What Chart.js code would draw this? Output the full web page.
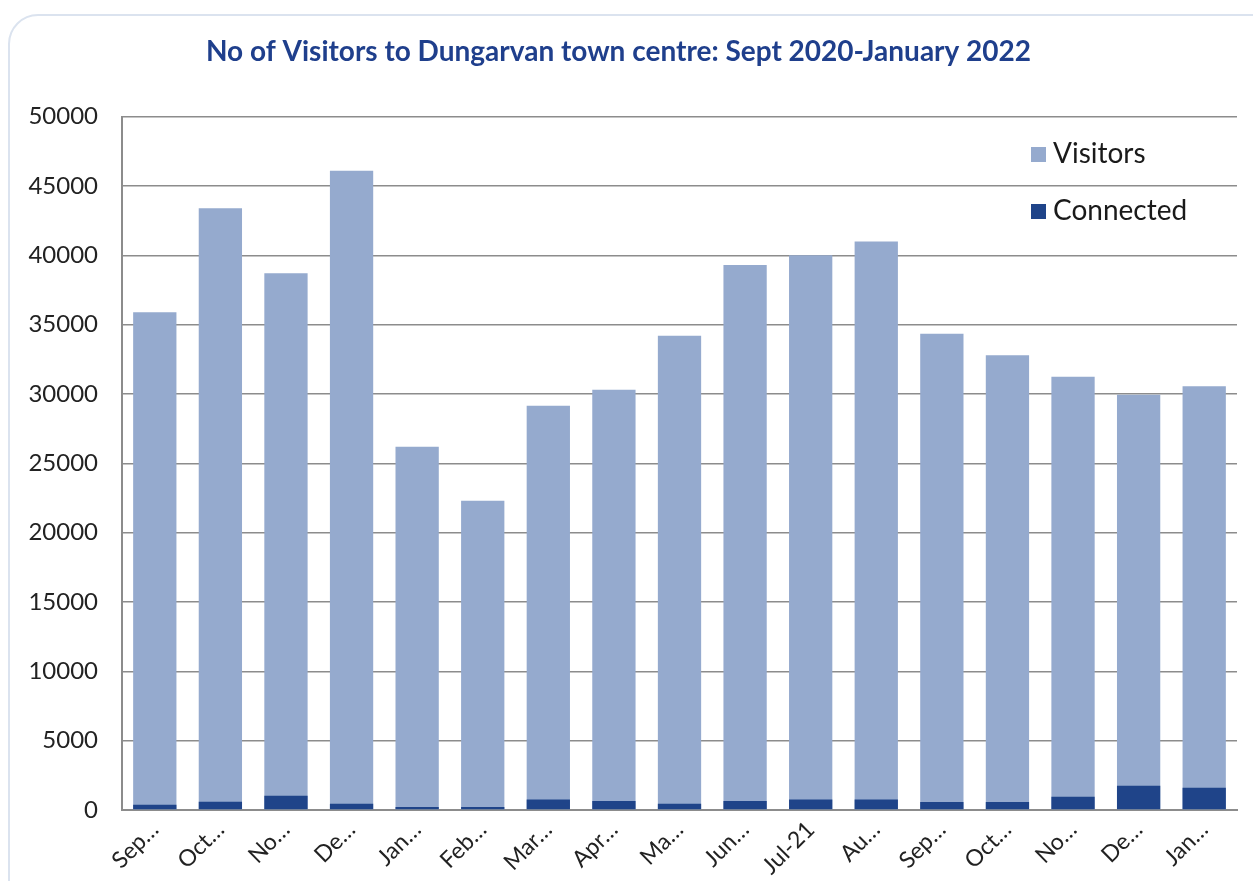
<!DOCTYPE html>
<html>
<head>
<meta charset="utf-8">
<script src="https://cdn.jsdelivr.net/npm/chart.js@4.4.1/dist/chart.umd.min.js"></script>
<style>
    html, body { margin: 0; padding: 0; background: #fff; overflow: hidden; }
    #frame {
        position: absolute; left: 8px; top: 14px; width: 1320px; height: 920px;
        border: 2px solid #dbe3ef; border-radius: 30px; box-sizing: border-box;
    }
    #wrap { position: absolute; left: 0; top: 0; width: 1253px; height: 881px; }
    #legend { position: absolute; left: 1031px; top: 135px; font-family: Lato, sans-serif; font-size: 28px; color: #1a1a1a; }
    #legend div { height: 57px; display: flex; align-items: flex-start; }
    #legend span.box { display: inline-block; width: 15px; height: 15px; margin: 12px 7px 0 0; }
</style>
</head>
<body>
<div id="frame"></div>
<div id="wrap"><canvas id="visitorsChart" width="1253" height="881"></canvas></div>
<div id="legend">
    <div><span class="box" style="background:#95aace"></span>Visitors</div>
    <div><span class="box" style="background:#1f4489"></span>Connected</div>
</div>
<script>
const months = ['Sep…', 'Oct…', 'No…', 'De…', 'Jan…', 'Feb…', 'Mar…', 'Apr…', 'Ma…',
    'Jun…', 'Jul-21', 'Au…', 'Sep…', 'Oct…', 'No…', 'De…', 'Jan…'];
const visitors = [35900, 43400, 38700, 46100, 26200, 22300, 29150, 30300, 34200,
    39300, 40000, 41000, 34350, 32800, 31250, 29950, 30550];
const connected = [380, 600, 1030, 450, 220, 220, 750, 650, 450,
    650, 750, 750, 580, 580, 960, 1750, 1610];
const yTicks = [0, 5000, 10000, 15000, 20000, 25000, 30000, 35000, 40000, 45000, 50000];

document.addEventListener('DOMContentLoaded', function () {
    const ctx = document.getElementById('visitorsChart').getContext('2d');
    new Chart(ctx, {
        type: 'bar',
        data: {
            labels: months,
            datasets: [{
                label: 'Visitors',
                data: visitors,
                backgroundColor: '#95aace',
                order: 2
            }, {
                label: 'Connected',
                data: connected,
                backgroundColor: '#1f4489',
                order: 1
            }]
        },
        options: {
            responsive: false,
            animation: false,
            maintainAspectRatio: false,
            layout: { padding: { left: 0, right: 16, top: 0, bottom: 0 } },
            datasets: { bar: { barPercentage: 0.66, categoryPercentage: 1 } },
            plugins: {
                legend: { display: false },
                tooltip: { enabled: false },
                title: {
                    display: true,
                    text: 'No of Visitors to Dungarvan town centre: Sept 2020-January 2022',
                    color: '#1f3f8c',
                    font: { family: 'Lato, sans-serif', size: 28, weight: 'bold' },
                    padding: { top: 35, bottom: 48 }
                }
            },
            scales: {
                x: {
                    stacked: true,
                    grid: { display: false, drawTicks: false },
                    border: { color: '#8c8c8c', width: 2 },
                    ticks: {
                        color: '#222',
                        font: { family: 'Lato, sans-serif', size: 23 },
                        maxRotation: 45, minRotation: 45, padding: 6, autoSkip: false
                    },
                    afterFit: function (scale) { scale.height = 71; }
                },
                y: {
                    stacked: false,
                    min: 0, max: 50000,
                    afterBuildTicks: function (scale) { scale.ticks = yTicks.map(v => ({ value: v })); },
                    grid: { color: '#8c8c8c', lineWidth: 1.5, drawTicks: false },
                    border: { color: '#8c8c8c', width: 2 },
                    ticks: {
                        color: '#222',
                        font: { family: 'Lato, sans-serif', size: 24 },
                        padding: 24,
                        callback: function (value) { return String(value); }
                    },
                    afterFit: function (scale) { scale.width = 122; }
                }
            }
        }
    });
});
</script>
</body>
</html>
